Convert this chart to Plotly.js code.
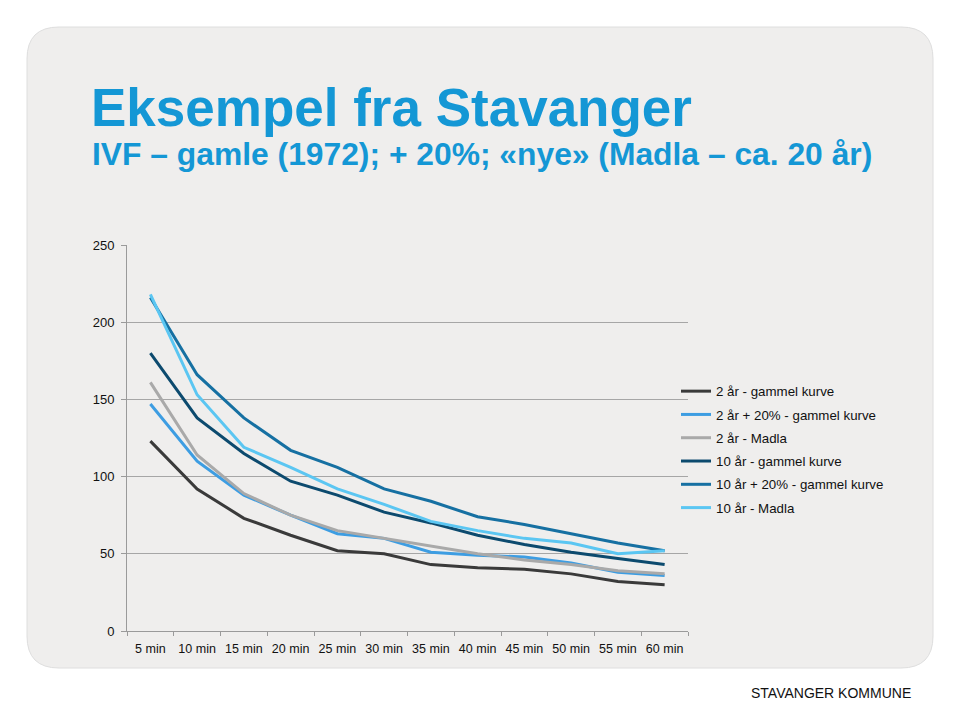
<!DOCTYPE html>
<html><head><meta charset="utf-8">
<script src="https://cdn.plot.ly/plotly-3.0.1.min.js"></script>
<style>html,body{margin:0;padding:0;background:#fff}#chart{width:960px;height:720px}</style>
</head><body><div id="chart"></div>
<script>
const categories = ["5 min","10 min","15 min","20 min","25 min","30 min","35 min","40 min","45 min","50 min","55 min","60 min"];
const seriesNames = ["2 år - gammel kurve","2 år + 20% - gammel kurve","2 år - Madla","10 år - gammel kurve","10 år + 20% - gammel kurve","10 år - Madla"];
const s2gammel   = [123, 92, 73, 62, 52, 50, 43, 41, 40, 37, 32, 30];
const s2pluss20  = [147, 110, 88, 75, 63, 60, 51, 49, 48, 44, 38, 36];
const s2madla    = [161, 114, 89, 75, 65, 60, 55, 50, 46, 43, 39, 37];
const s10gammel  = [180, 138, 115, 97, 88, 77, 70, 62, 56, 51, 47, 43];
const s10pluss20 = [216, 166, 138, 117, 106, 92, 84, 74, 69, 63, 57, 52];
const s10madla   = [218, 153, 119, 106, 92, 82, 71, 65, 60, 57, 50, 52];
const yTicks = [0, 50, 100, 150, 200, 250];

const colors = ["#3a3a3a","#3d9de2","#a9a9a9","#0c4a6e","#1670a2","#5bc6f2"];
const allSeries = [s2gammel, s2pluss20, s2madla, s10gammel, s10pluss20, s10madla];

const traces = allSeries.map((v, i) => ({
  type: "scatter", mode: "lines", x: categories, y: v, name: seriesNames[i],
  legendgroup: "g" + i,
  line: {color: colors[i], width: 3}
}));

// plot area in pixels
const L = 127, R = 688, T = 245, B = 631;
const W = R - L, H = B - T;
const px = x => (x - L) / W;
const py = y => (B - y) / H;

// rounded panel
const x0 = px(27), x1 = px(933), y0 = py(27), y1 = py(668);
const rx = 32 / W, ry = 32 / H;
const panelPath = `M ${x0+rx} ${y0} L ${x1-rx} ${y0} Q ${x1} ${y0} ${x1} ${y0-ry} L ${x1} ${y1+ry} Q ${x1} ${y1} ${x1-rx} ${y1} L ${x0+rx} ${y1} Q ${x0} ${y1} ${x0} ${y1+ry} L ${x0} ${y0-ry} Q ${x0} ${y0} ${x0+rx} ${y0} Z`;

const layout = {
  width: 960, height: 720,
  margin: {l: L, r: 960 - R, t: T, b: 720 - B, pad: 0},
  paper_bgcolor: "#ffffff",
  plot_bgcolor: "rgba(0,0,0,0)",
  font: {family: "Liberation Sans, Arial, sans-serif", color: "#222", size: 12},
  showlegend: true,
  legend: {
    x: px(676), y: py(376), xanchor: "left", yanchor: "top",
    bgcolor: "rgba(0,0,0,0)", font: {size: 13.3, color: "#111"},
    traceorder: "grouped", tracegroupgap: 3, itemwidth: 30
  },
  xaxis: {
    type: "category", range: [-0.5, 11.5], showgrid: false, zeroline: false,
    showline: true, linecolor: "#9a9a9a", linewidth: 1,
    ticks: "outside", tickson: "boundaries", ticklen: 4, tickcolor: "#9a9a9a",
    ticklabelstandoff: 6, tickangle: 0,
    tickfont: {size: 12.5, color: "#111"}
  },
  yaxis: {
    range: [0, 250], tickvals: yTicks, ticktext: yTicks.map(String),
    showgrid: true, gridcolor: "#a6a6a6", gridwidth: 1, zeroline: false,
    showline: true, linecolor: "#9a9a9a", linewidth: 1,
    ticks: "outside", ticklen: 5, tickcolor: "#9a9a9a",
    ticklabelstandoff: 4,
    tickfont: {size: 13, color: "#111"}
  },
  shapes: [{
    type: "path", xref: "paper", yref: "paper", path: panelPath,
    fillcolor: "#efeeed", line: {color: "#dedede", width: 1}, layer: "below"
  }],
  annotations: [
    {xref: "paper", yref: "paper", x: px(89), y: py(76), xanchor: "left", yanchor: "top",
     text: "<b>Eksempel fra Stavanger</b>", showarrow: false,
     font: {size: 53, color: "#1497d5", family: "Liberation Sans, Arial, sans-serif"}},
    {xref: "paper", yref: "paper", x: px(90), y: py(134), xanchor: "left", yanchor: "top",
     text: "<b>IVF – gamle (1972); + 20%; «nye» (Madla – ca. 20 år)</b>", showarrow: false,
     font: {size: 31.8, color: "#1497d5", family: "Liberation Sans, Arial, sans-serif"}},
    {xref: "paper", yref: "paper", x: px(913), y: py(683), xanchor: "right", yanchor: "top",
     text: "STAVANGER KOMMUNE", showarrow: false,
     font: {size: 14, color: "#111", family: "Liberation Sans, Arial, sans-serif"}}
  ]
};

Plotly.newPlot("chart", traces, layout, {displayModeBar: false, staticPlot: true});
</script>
</body></html>
